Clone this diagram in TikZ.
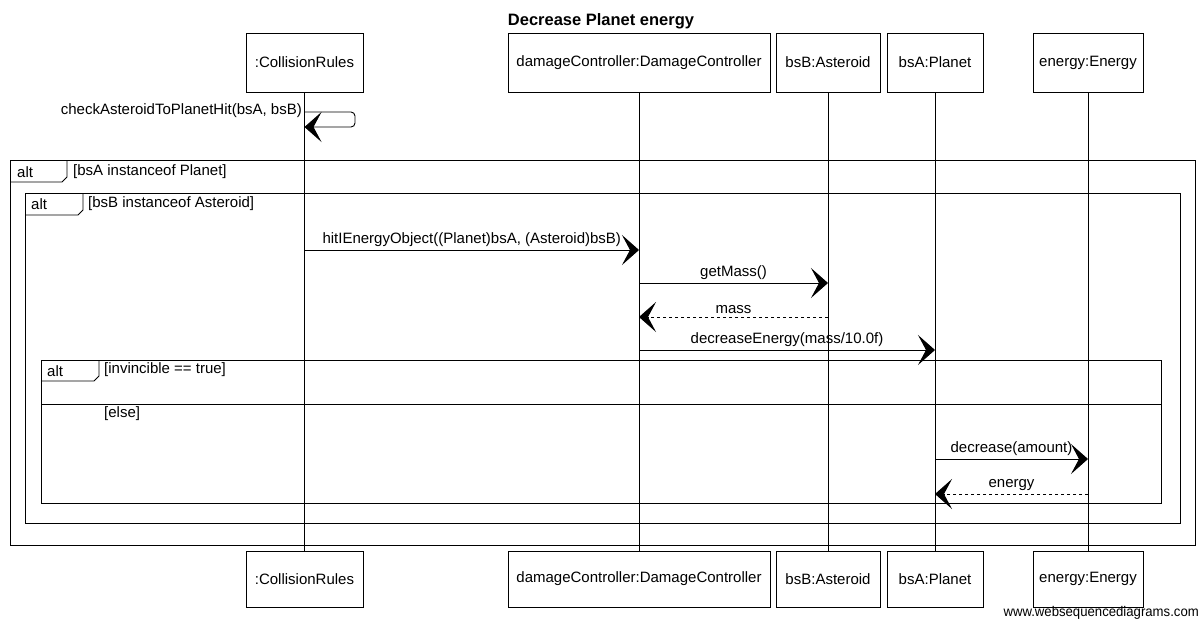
\documentclass[tikz,border=0pt]{standalone}
\usepackage{fontspec}
\setmainfont{Liberation Sans}
\usetikzlibrary{arrows.meta,positioning}

\newcommand{\lab}{\fontsize{15}{17}\selectfont}

\tikzset{
  actor/.style={draw, line width=0.8pt, minimum height=59pt, inner sep=0pt, font=\lab},
  lifeline/.style={line width=0.6pt},
  msg/.style={-{Stealth[length=17pt,width=30pt,inset=8pt]}, line width=0.9pt},
  reply/.style={msg, dashed},
  frame/.style={draw, line width=0.8pt},
  txt/.style={font=\lab, inner sep=0pt},
}

\begin{document}
\begin{tikzpicture}[x=1pt,y=-1pt]
\useasboundingbox (0,0) rectangle (1201,622);

% Title
\node[font=\fontsize{16.5}{19}\selectfont\bfseries] (title) at (601,21) {Decrease Planet energy};

% Participants (top)
\node[actor, minimum width=117pt] (crT) at (304.5,62.5) {:CollisionRules};
\node[actor, minimum width=262pt] (dcT) at (639,62.5) {damageController:DamageController};
\node[actor, minimum width=104pt] (bbT) at (828,62.5) {bsB:Asteroid};
\node[actor, minimum width=96pt]  (baT) at (935,62.5) {bsA:Planet};
\node[actor, minimum width=110pt] (enT) at (1088,62.5) {energy:Energy};

% Participants (bottom)
\node[actor, minimum width=117pt, minimum height=56pt] (crB) at (304.5,579) {:CollisionRules};
\node[actor, minimum width=262pt, minimum height=56pt] (dcB) at (639,579) {damageController:DamageController};
\node[actor, minimum width=104pt, minimum height=56pt] (bbB) at (828,579) {bsB:Asteroid};
\node[actor, minimum width=96pt, minimum height=56pt]  (baB) at (935,579) {bsA:Planet};
\node[actor, minimum width=110pt, minimum height=56pt] (enB) at (1088,579) {energy:Energy};

% Lifelines
\draw[lifeline] (crT) -- (crB);
\draw[lifeline] (dcT) -- (dcB);
\draw[lifeline] (bbT) -- (bbB);
\draw[lifeline] (baT) -- (baB);
\draw[lifeline] (enT) -- (enB);

% Self call
\coordinate (selfA) at (304.5,112);
\coordinate (selfB) at (304.5,127);
\draw[msg, rounded corners=4pt] (selfA) -- (355,112) -- (355,127) -- (selfB);
\node[txt, anchor=east] (selfL) at (302,111) {checkAsteroidToPlanetHit(bsA, bsB)};

% Outer alt
\draw[frame] (10,160) rectangle (1195,545);
\draw[frame] (10,182) -- (62,182) -- (67,177) -- (67,160);
\node[txt, anchor=west] (alt1) at (17,172) {alt};
\node[txt, anchor=west] (cond1) at (73,172) {[bsA instanceof Planet]};

% Middle alt
\draw[frame] (25,193) rectangle (1180,523);
\draw[frame] (25,215) -- (78,215) -- (83,210) -- (83,193);
\node[txt, anchor=west] (alt2) at (31,204) {alt};
\node[txt, anchor=west] (cond2) at (88,204) {[bsB instanceof Asteroid]};

% Inner alt
\draw[frame] (41,360) rectangle (1161,503);
\draw[frame] (41,381) -- (94,381) -- (99,376) -- (99,360);
\node[txt, anchor=west] (alt3) at (47,371) {alt};
\node[txt, anchor=west] (cond3) at (104,370) {[invincible == true]};
\draw[frame] (41,404) -- (1161,404);
\node[txt, anchor=west] (cond4) at (104,414) {[else]};

% Messages
\coordinate (hitA) at (304.5,250);
\coordinate (hitB) at (639,250);
\draw[msg] (hitA) -- (hitB) node[txt, midway, above=3pt] (hitL) {hitIEnergyObject((Planet)bsA, (Asteroid)bsB)};

\coordinate (gmA) at (639,283);
\coordinate (gmB) at (828,283);
\draw[msg] (gmA) -- (gmB) node[txt, midway, above=3pt] (gmL) {getMass()};

\coordinate (msA) at (828,317);
\coordinate (msB) at (639,317);
\draw[reply] (msA) -- (msB) node[txt, midway, above=3pt] (msL) {mass};

\coordinate (deA) at (639,350);
\coordinate (deB) at (935,350);
\draw[msg] (deA) -- (deB) node[txt, midway, above=3pt] (deL) {decreaseEnergy(mass/10.0f)};

\coordinate (daA) at (935,459);
\coordinate (daB) at (1088,459);
\draw[msg] (daA) -- (daB) node[txt, midway, above=3pt] (daL) {decrease(amount)};

\coordinate (enA) at (1088,494);
\coordinate (enZ) at (935,494);
\draw[reply] (enA) -- (enZ) node[txt, midway, above=3pt] (enL) {energy};

% Footer
\node[anchor=east, inner sep=0pt, font=\fontsize{14}{16}\selectfont] (foot) at (1199,613) {\scalebox{0.94}[1]{www.websequencediagrams.com}};

\end{tikzpicture}
\end{document}
